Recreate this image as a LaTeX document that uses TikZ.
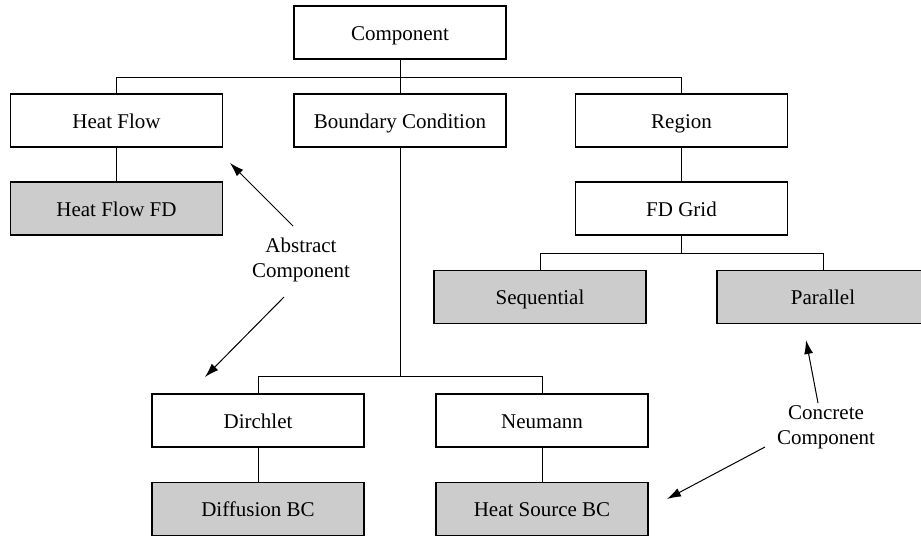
\documentclass[tikz,border=0pt]{standalone}
\usepackage{fontspec}
\setmainfont{Liberation Serif}
\usetikzlibrary{arrows.meta}
\begin{document}
\begin{tikzpicture}[x=0.5pt,y=-0.5pt,
  box/.style={draw, line width=0.65pt, minimum width=106pt, minimum height=26.5pt,
    text height=8.7pt, text depth=1.1pt,
    inner sep=0pt, outer sep=0pt, font=\fontsize{10.5}{12.6}\selectfont},
  abox/.style={box, fill=white},
  cbox/.style={box, fill=black!20},
  link/.style={line width=0.5pt},
  lbl/.style={align=center, inner sep=0pt, font=\fontsize{10.5}{12.6}\selectfont},
  arr/.style={line width=0.5pt, -{Latex[length=7pt,width=4.5pt]}}]
\useasboundingbox (0,0) rectangle (921,536);
\node[abox] (comp) at (400,32.5) {Component};
\node[abox] (hf) at (116.5,120.5) {Heat Flow};
\node[abox] (bc) at (400,120.5) {Boundary Condition};
\node[abox] (reg) at (681.5,120.5) {Region};
\node[cbox] (hffd) at (116.5,208.5) {Heat Flow FD};
\node[abox] (fdg) at (681.5,208.5) {FD Grid};
\node[cbox] (seq) at (540,297) {Sequential};
\node[cbox] (par) at (823,297) {Parallel};
\node[abox] (dir) at (258,420.5) {Dirchlet};
\node[abox] (neu) at (542,420.5) {Neumann};
\node[cbox] (dif) at (258,509) {Diffusion BC};
\node[cbox] (hs) at (542,509) {Heat Source BC};
% tree links
\draw[link] (comp.south) -- ++(0,18) -| (hf.north);
\draw[link] (comp.south) -- ++(0,18) -| (reg.north);
\draw[link] (comp.south) -- (bc.north);
\draw[link] (hf.south) -- (hffd.north);
\draw[link] (reg.south) -- (fdg.north);
\draw[link] (fdg.south) -- ++(0,18) -| (seq.north);
\draw[link] (fdg.south) -- ++(0,18) -| (par.north);
\draw[link] (bc.south) -- ++(0,229) -| (dir.north);
\draw[link] (bc.south) -- ++(0,229) -| (neu.north);
\draw[link] (dir.south) -- (dif.north);
\draw[link] (neu.south) -- (hs.north);
% labels
\node[lbl] (abs) at (301,260) {Abstract\\Component};
\node[lbl] (con) at (826,427.5) {Concrete\\Component};
\coordinate (a1s) at (293,226);
\coordinate (a1e) at (230,163);
\coordinate (a2s) at (284,297);
\coordinate (a2e) at (205,377);
\coordinate (c1s) at (818,403);
\coordinate (c1e) at (806,340);
\coordinate (c2s) at (765,447);
\coordinate (c2e) at (667,499);
\draw[arr] (a1s) -- (a1e);
\draw[arr] (a2s) -- (a2e);
\draw[arr] (c1s) -- (c1e);
\draw[arr] (c2s) -- (c2e);
\end{tikzpicture}
\end{document}
